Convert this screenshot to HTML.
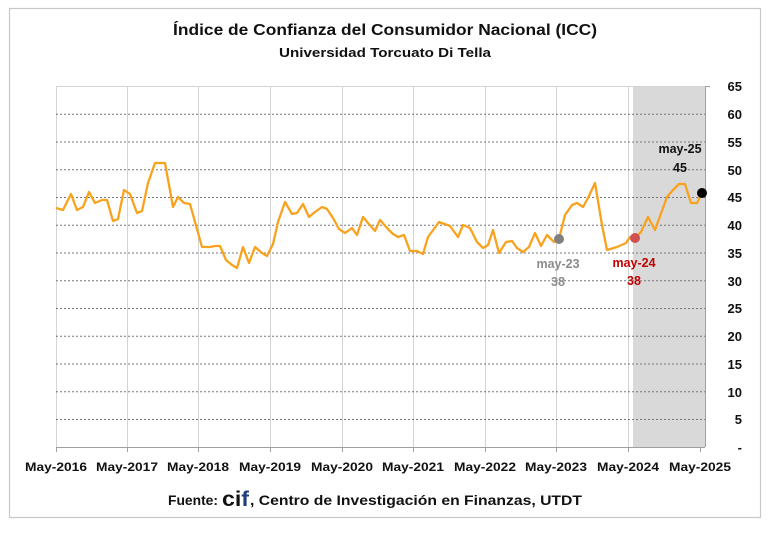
<!DOCTYPE html>
<html><head><meta charset="utf-8"><style>
html,body{margin:0;padding:0;background:#fff;}
svg{display:block;font-family:"Liberation Sans",sans-serif;}
</style></head><body>
<svg width="770" height="533" viewBox="0 0 770 533" xmlns="http://www.w3.org/2000/svg">
<rect x="0" y="0" width="770" height="533" fill="#fff"/>
<rect x="9.5" y="8.5" width="751" height="509" fill="#fff" stroke="#c8c8c8" stroke-width="1.2"/>
<text x="385" y="35" text-anchor="middle" font-size="16" font-weight="bold" fill="#111" textLength="424" lengthAdjust="spacingAndGlyphs">Índice de Confianza del Consumidor Nacional (ICC)</text>
<text x="385" y="57" text-anchor="middle" font-size="13" font-weight="bold" fill="#111" textLength="212" lengthAdjust="spacingAndGlyphs">Universidad Torcuato Di Tella</text>
<rect x="633" y="86" width="72" height="361" fill="#d9d9d9"/>
<g stroke="#d4d4d4" stroke-width="1">
<line x1="56.5" y1="86" x2="56.5" y2="447"/>
<line x1="127.5" y1="86" x2="127.5" y2="447"/>
<line x1="198.5" y1="86" x2="198.5" y2="447"/>
<line x1="270.5" y1="86" x2="270.5" y2="447"/>
<line x1="342.5" y1="86" x2="342.5" y2="447"/>
<line x1="413.5" y1="86" x2="413.5" y2="447"/>
<line x1="485.5" y1="86" x2="485.5" y2="447"/>
<line x1="556.5" y1="86" x2="556.5" y2="447"/>
<line x1="628.5" y1="86" x2="628.5" y2="447"/>
<line x1="56" y1="86.5" x2="705" y2="86.5"/>
</g>
<g stroke="#777" stroke-width="1" stroke-dasharray="2,2">
<line x1="56" y1="114.2" x2="705" y2="114.2"/>
<line x1="56" y1="142" x2="705" y2="142"/>
<line x1="56" y1="169.7" x2="705" y2="169.7"/>
<line x1="56" y1="197.5" x2="705" y2="197.5"/>
<line x1="56" y1="225.2" x2="705" y2="225.2"/>
<line x1="56" y1="253" x2="705" y2="253"/>
<line x1="56" y1="280.7" x2="705" y2="280.7"/>
<line x1="56" y1="308.5" x2="705" y2="308.5"/>
<line x1="56" y1="336.2" x2="705" y2="336.2"/>
<line x1="56" y1="364" x2="705" y2="364"/>
<line x1="56" y1="391.7" x2="705" y2="391.7"/>
<line x1="56" y1="419.5" x2="705" y2="419.5"/>
</g>
<g stroke="#a0a0a0" stroke-width="1">
<line x1="56" y1="447.5" x2="705" y2="447.5"/>
<line x1="705.5" y1="86" x2="705.5" y2="447"/>
<line x1="56.5" y1="447" x2="56.5" y2="452"/>
<line x1="127.5" y1="447" x2="127.5" y2="452"/>
<line x1="198.5" y1="447" x2="198.5" y2="452"/>
<line x1="270.5" y1="447" x2="270.5" y2="452"/>
<line x1="342.5" y1="447" x2="342.5" y2="452"/>
<line x1="413.5" y1="447" x2="413.5" y2="452"/>
<line x1="485.5" y1="447" x2="485.5" y2="452"/>
<line x1="556.5" y1="447" x2="556.5" y2="452"/>
<line x1="628.5" y1="447" x2="628.5" y2="452"/>
<line x1="700.5" y1="447" x2="700.5" y2="452"/>
<line x1="705" y1="86.5" x2="710" y2="86.5"/>
</g>
<polyline fill="none" stroke="#f9a21e" stroke-width="2.3" stroke-linejoin="round" points="56,208 63,210 71,194 77,210 83,207 89,192 95,203 102,200 107,200 113,221 118,219 124,190 130,194 137,213 142,211 148,183 155,163 165,163 173,207 178,197 184,203 190,204 202,247 210,247 215,246 220,246 226,260 232,265 237,268 243,247 249,263 255,247 262,253 267,256 273,244 278,222 285,202 292,214 297,213 303,204 309,217 315,212 322,207 327,209 333,218 339,229 345,233 352,228 357,235 363,217 368,223 375,231 380,220 387,228 393,234 398,237 404,235 410,251 417,251 423,254 428,237 439,222 450,226 458,237 463,225 470,228 477,242 483,248 488,245 493,230 499,253 506,242 512,241 517,248 523,252 529,247 535,233 541,246 547,235 554,242 559,239 565,215 572,205 577,203 583,207 588,198 595,183 602,225 607,250 617,247 626,243 630,237 635,238 641,232 648,217 655,230 667,197 673,190 679,184 685,184 691,203 697,203 702,193"/>
<circle cx="559" cy="239" r="5" fill="#808080"/>
<circle cx="635" cy="238" r="5" fill="#d05050"/>
<circle cx="702" cy="193" r="5" fill="#000"/>
<g font-size="12.5" font-weight="bold" text-anchor="middle">
<text x="558" y="268" fill="#8c8c8c">may-23</text>
<text x="558" y="286" fill="#8c8c8c">38</text>
<text x="634" y="267" fill="#c00000">may-24</text>
<text x="634" y="285" fill="#c00000">38</text>
<text x="680" y="153" fill="#111">may-25</text>
<text x="680" y="172" fill="#111">45</text>
</g>
<g font-size="13" font-weight="bold" fill="#111" text-anchor="end">
<text x="742" y="91">65</text>
<text x="742" y="119">60</text>
<text x="742" y="147">55</text>
<text x="742" y="175">50</text>
<text x="742" y="202">45</text>
<text x="742" y="230">40</text>
<text x="742" y="258">35</text>
<text x="742" y="286">30</text>
<text x="742" y="313">25</text>
<text x="742" y="341">20</text>
<text x="742" y="369">15</text>
<text x="742" y="397">10</text>
<text x="742" y="424">5</text>
<text x="742" y="452">-</text>
</g>
<g font-size="12" font-weight="bold" fill="#111" text-anchor="middle">
<text x="56" y="471" textLength="62" lengthAdjust="spacingAndGlyphs">May-2016</text>
<text x="127" y="471" textLength="62" lengthAdjust="spacingAndGlyphs">May-2017</text>
<text x="198" y="471" textLength="62" lengthAdjust="spacingAndGlyphs">May-2018</text>
<text x="270" y="471" textLength="62" lengthAdjust="spacingAndGlyphs">May-2019</text>
<text x="342" y="471" textLength="62" lengthAdjust="spacingAndGlyphs">May-2020</text>
<text x="413" y="471" textLength="62" lengthAdjust="spacingAndGlyphs">May-2021</text>
<text x="485" y="471" textLength="62" lengthAdjust="spacingAndGlyphs">May-2022</text>
<text x="556" y="471" textLength="62" lengthAdjust="spacingAndGlyphs">May-2023</text>
<text x="628" y="471" textLength="62" lengthAdjust="spacingAndGlyphs">May-2024</text>
<text x="700" y="471" textLength="62" lengthAdjust="spacingAndGlyphs">May-2025</text>
</g>
<text x="168" y="505" font-size="14" font-weight="bold" fill="#111" textLength="50" lengthAdjust="spacingAndGlyphs">Fuente:</text>
<text x="222" y="506" font-size="21" font-weight="bold" fill="#111" textLength="27" lengthAdjust="spacingAndGlyphs">ci<tspan fill="#1f3f7a">f</tspan></text>
<text x="250" y="505" font-size="14" font-weight="bold" fill="#111" textLength="332" lengthAdjust="spacingAndGlyphs">, Centro de Investigación en Finanzas, UTDT</text>
</svg>
</body></html>
